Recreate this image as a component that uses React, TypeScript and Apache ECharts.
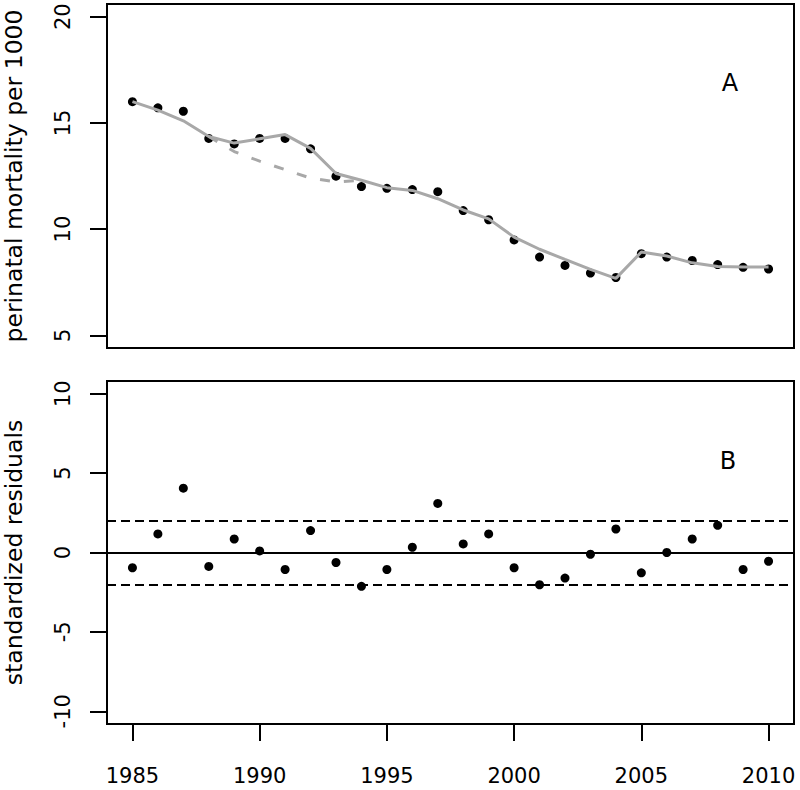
import React, { useEffect, useRef } from "react";
import * as echarts from "echarts";

const years = [1985,1986,1987,1988,1989,1990,1991,1992,1993,1994,1995,1996,1997,1998,1999,2000,2001,2002,2003,2004,2005,2006,2007,2008,2009,2010];
const observed = [16.0,15.71,15.55,14.27,14.01,14.27,14.27,13.78,12.49,12.0,11.92,11.86,11.76,10.87,10.44,9.49,8.68,8.29,7.93,7.72,8.84,8.68,8.52,8.33,8.2,8.12];
const fitted = [16.0,15.6,15.1,14.36,14.05,14.25,14.45,13.8,12.62,12.3,11.95,11.82,11.43,10.9,10.48,9.62,9.05,8.57,8.1,7.68,8.92,8.73,8.41,8.24,8.22,8.22];
const counterYears = [1988,1989,1990,1991,1992,1993,1994];
const counterfactual = [14.36,13.65,13.2,12.8,12.4,12.22,12.3];
const residuals = [-0.96,1.17,4.05,-0.88,0.85,0.1,-1.07,1.38,-0.63,-2.13,-1.07,0.33,3.09,0.54,1.17,-0.96,-2.03,-1.61,-0.11,1.48,-1.28,0.0,0.85,1.71,-1.07,-0.55];
const xTicks = [1985,1990,1995,2000,2005,2010];
const yTicksTop = [5,10,15,20];
const yTicksBottom = [-10,-5,0,5,10];
const bandLimit = 2;

const FONT = "'DejaVu Sans', 'Liberation Sans', Arial, sans-serif";

export default function App() {
  const ref = useRef<HTMLDivElement>(null);
  useEffect(() => {
    if (!ref.current) return;
    const chart = echarts.init(ref.current, null, { renderer: "svg" });
    const tickStyle = { color: "#000", width: 2 };
    const labelBase = { color: "#000", fontSize: 21, fontFamily: FONT };
    const gridBase = { show: true, borderColor: "#000", borderWidth: 2, backgroundColor: "#fff", containLabel: false, outerBoundsMode: "none" };
    const yAxisCommon = (min: number, max: number, ticks: number[], name: string) => ({
      type: "value",
      min,
      max,
      name,
      nameLocation: "middle",
      nameRotate: 90,
      nameGap: 81,
      nameTextStyle: { color: "#000", fontSize: 23.5, fontFamily: FONT },
      axisLine: { show: false, onZero: false },
      splitLine: { show: false },
      axisTick: { show: true, inside: false, length: 17, lineStyle: tickStyle, customValues: ticks },
      axisLabel: { ...labelBase, rotate: 90, margin: 34, customValues: ticks },
    });
    chart.setOption({
      animation: false,
      backgroundColor: "#fff",
      grid: [
        { ...gridBase, left: 107, top: 4, width: 687, height: 344 },
        { ...gridBase, left: 107, top: 381, width: 687, height: 343 },
      ],
      xAxis: [
        {
          type: "value", gridIndex: 0, min: 1984, max: 2011,
          axisLine: { show: false, onZero: false }, axisTick: { show: false }, axisLabel: { show: false }, splitLine: { show: false },
        },
        {
          type: "value", gridIndex: 1, min: 1984, max: 2011,
          axisLine: { show: false, onZero: false },
          splitLine: { show: false },
          axisTick: { show: true, inside: false, length: 17, lineStyle: tickStyle, customValues: xTicks },
          axisLabel: { ...labelBase, margin: 41, customValues: xTicks, formatter: (v: number) => String(v) },
        },
      ],
      yAxis: [
        { ...yAxisCommon(4.4, 20.6, yTicksTop, "perinatal mortality per 1000"), gridIndex: 0 },
        { ...yAxisCommon(-10.8, 10.8, yTicksBottom, "standardized residuals"), gridIndex: 1 },
      ],
      graphic: [
        { type: "text", x: 730, y: 83, style: { text: "A", fill: "#000", fontSize: 24, fontFamily: FONT, align: "center", verticalAlign: "middle" } },
        { type: "text", x: 728, y: 461, style: { text: "B", fill: "#000", fontSize: 24, fontFamily: FONT, align: "center", verticalAlign: "middle" } },
      ],
      series: [
        {
          type: "line", xAxisIndex: 0, yAxisIndex: 0, symbol: "none",
          data: counterYears.map((y, i) => [y, counterfactual[i]]),
          lineStyle: { color: "#a8a8a8", width: 3, type: [10, 14] },
        },
        {
          type: "line", xAxisIndex: 0, yAxisIndex: 0, symbol: "none",
          data: years.map((y, i) => [y, fitted[i]]),
          lineStyle: { color: "#a8a8a8", width: 3 },
        },
        {
          type: "scatter", xAxisIndex: 0, yAxisIndex: 0, symbolSize: 9,
          itemStyle: { color: "#000", opacity: 1 },
          data: years.map((y, i) => [y, observed[i]]),
        },
        {
          type: "scatter", xAxisIndex: 1, yAxisIndex: 1, symbolSize: 9,
          itemStyle: { color: "#000", opacity: 1 },
          data: years.map((y, i) => [y, residuals[i]]),
          markLine: {
            silent: true, symbol: "none", label: { show: false },
            data: [
              { yAxis: 0, lineStyle: { color: "#000", width: 2, type: "solid" } },
              { yAxis: bandLimit, lineStyle: { color: "#000", width: 2, type: [9, 5] } },
              { yAxis: -bandLimit, lineStyle: { color: "#000", width: 2, type: [9, 5] } },
            ],
          },
        },
      ],
    });
    return () => chart.dispose();
  }, []);
  return <div ref={ref} style={{ position: "fixed", left: 0, top: 0, width: 800, height: 790, background: "#fff" }} />;
}
